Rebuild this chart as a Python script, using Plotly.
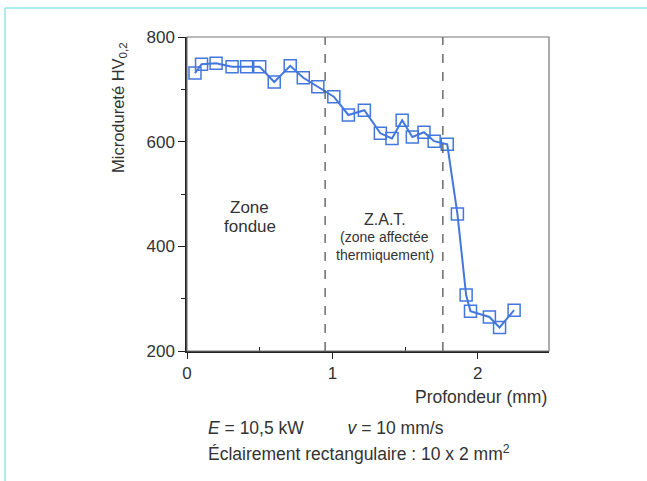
import plotly.graph_objects as go

depth_mm = [0.055, 0.10, 0.20, 0.31, 0.41, 0.50, 0.60, 0.71, 0.80, 0.90, 1.01, 1.11, 1.22,
            1.33, 1.41, 1.48, 1.55, 1.63, 1.70, 1.79, 1.86, 1.92, 1.95, 2.08, 2.15, 2.25]
hardness = [731, 748, 750, 743, 743, 743, 714, 745, 722, 705, 686, 651, 660,
            616, 606, 641, 609, 618, 601, 595, 462, 307, 276, 265, 245, 278]
zone_limits = [0.95, 1.76]
x_ticks = [0, 1, 2]
y_ticks = [200, 400, 600, 800]

BLUE = "#4277de"
FONT = "Liberation Sans, Arial, sans-serif"
TXT = "#333333"

fig = go.Figure()
fig.add_trace(go.Scatter(
    x=depth_mm, y=hardness, mode="lines+markers",
    line=dict(color=BLUE, width=2),
    marker=dict(symbol="square-open", size=12, color=BLUE, line=dict(width=1.5)),
    showlegend=False, hoverinfo="skip"))

for xv in zone_limits:
    fig.add_shape(type="line", x0=xv, x1=xv, y0=200, y1=800, xref="x", yref="y",
                  line=dict(color="#555555", width=1.3, dash="dash"))

fig.add_shape(type="rect", x0=0, x1=1, y0=0, y1=1, xref="paper", yref="paper",
              line=dict(color="#777777", width=1.2), layer="above")

L, R, T, B = 187, 549, 37, 351
def px(v):
    return (v - L) / (R - L)
def py(v):
    return (B - v) / (B - T)
fig.add_shape(type="line", x0=px(5), x1=px(647), y0=py(8), y1=py(8), xref="paper", yref="paper",
              line=dict(color="#8eeaea", width=1.5))
fig.add_shape(type="line", x0=px(5), x1=px(5), y0=py(8), y1=py(481), xref="paper", yref="paper",
              line=dict(color="#8eeaea", width=1.5))

ann = [
    dict(x=0.43, y=474, text="Zone", size=17),
    dict(x=0.43, y=438, text="fondue", size=17),
    dict(x=1.36, y=452, text="Z.A.T.", size=16),
    dict(x=1.36, y=417, text="(zone affectée", size=14),
    dict(x=1.36, y=383, text="thermiquement)", size=14),
]
for a in ann:
    fig.add_annotation(x=a["x"], y=a["y"], xref="x", yref="y", text=a["text"], showarrow=False,
                       xanchor="center", yanchor="middle",
                       font=dict(family=FONT, size=a["size"], color=TXT))

fig.add_annotation(x=px(549), y=py(397), xref="paper", yref="paper", text="Profondeur (mm)",
                   showarrow=False, xanchor="right", yanchor="middle",
                   font=dict(family=FONT, size=17.5, color=TXT))
fig.add_annotation(x=px(119), y=py(108), xref="paper", yref="paper",
                   text="Microdureté HV<sub>0,2</sub>", textangle=-90, showarrow=False,
                   xanchor="center", yanchor="middle",
                   font=dict(family=FONT, size=16.5, color=TXT))
fig.add_annotation(x=px(206), y=py(428), xref="paper", yref="paper",
                   text="<i>E</i> = 10,5 kW         <i>v</i> = 10 mm/s",
                   showarrow=False, xanchor="left", yanchor="middle",
                   font=dict(family=FONT, size=17.5, color=TXT))
fig.add_annotation(x=px(206), y=py(453), xref="paper", yref="paper",
                   text="Éclairement rectangulaire : 10 x 2 mm<sup>2</sup>",
                   showarrow=False, xanchor="left", yanchor="middle",
                   font=dict(family=FONT, size=17.5, color=TXT))

fig.update_layout(
    width=647, height=481,
    margin=dict(l=L, r=647 - R, t=T, b=481 - B),
    paper_bgcolor="white", plot_bgcolor="white",
    font=dict(family=FONT, size=17, color=TXT),
    xaxis=dict(range=[0, 2.49], tickvals=x_ticks, ticktext=[str(v) for v in x_ticks],
               ticks="outside", ticklen=6, tickcolor="#222", showgrid=False, zeroline=False,
               showline=True, linecolor="#222", linewidth=1.5,
               minor=dict(tickvals=[0.5, 1.5], ticks="inside", ticklen=4, tickcolor="#222"),
               tickfont=dict(size=17, color=TXT)),
    yaxis=dict(range=[200, 800], tickvals=y_ticks, ticktext=[str(v) for v in y_ticks],
               ticks="outside", ticklen=7, tickcolor="#222", showgrid=False, zeroline=False,
               showline=True, linecolor="#222", linewidth=1.5,
               minor=dict(tickvals=[300, 500, 700], ticks="outside", ticklen=4, tickcolor="#222"),
               tickfont=dict(size=17, color=TXT)),
)

fig.write_html("out.html")
